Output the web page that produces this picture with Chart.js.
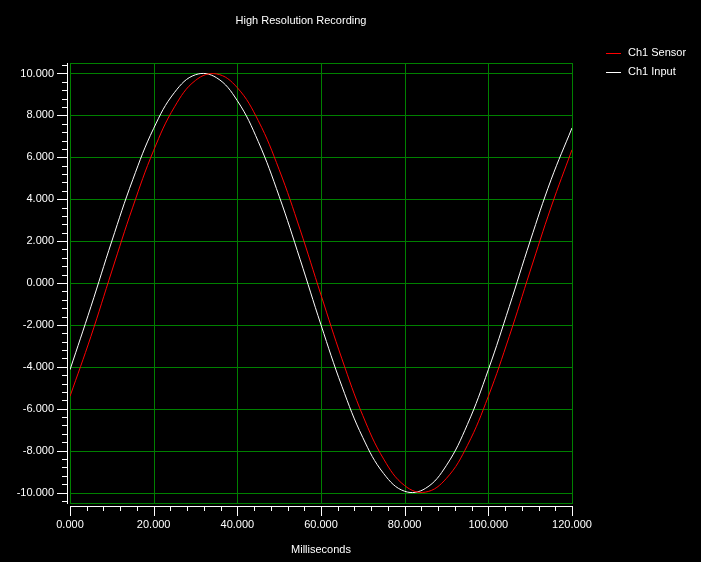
<!DOCTYPE html>
<html>
<head>
<meta charset="utf-8">
<script src="https://cdn.jsdelivr.net/npm/chart.js@4"></script>
<style>
  body { margin: 0; background: #000; }
  canvas { display: block; background: #000; }
</style>
</head>
<body>
<canvas id="myChart" width="701" height="562"></canvas>
<script>
// values, every 5 ms
const timeMs = [0, 5, 10, 15, 20, 25, 30, 35, 40, 45, 50, 55, 60, 65, 70, 75, 80, 85, 90, 95, 100, 105, 110, 115, 120];
const sensor = [-5.41, -2.55, 0.57, 3.62, 6.33, 8.41, 9.67, 9.98, 9.32, 7.75, 5.41, 2.55, -0.57, -3.62, -6.33, -8.41, -9.67, -9.98, -9.32, -7.75, -5.41, -2.55, 0.57, 3.62, 6.36];
const input = [-4.14, -1.13, 2.0, 4.93, 7.38, 9.1, 9.94, 9.8, 8.7, 6.75, 4.14, 1.13, -2.0, -4.93, -7.38, -9.1, -9.94, -9.8, -8.7, -6.75, -4.14, -1.13, 2.0, 4.93, 7.4];
const xTickValues = [0, 20, 40, 60, 80, 100, 120];
const yTickValues = [-10, -8, -6, -4, -2, 0, 2, 4, 6, 8, 10];
const seriesLabels = ["Ch1 Sensor", "Ch1 Input"];
const chartTitle = "High Resolution Recording";
const xTitle = "Milliseconds";

const GREEN = "#008000";
const FONT = "'Liberation Sans', Arial, sans-serif";

const toPoints = (values) => timeMs.map((t, i) => ({ x: t, y: values[i] }));
const px = (p) => Math.round(p);

// green grid + frame, drawn as whole pixels so it stays crisp
const greenGrid = {
  id: "greenGrid",
  beforeDatasetsDraw(chart) {
    const { ctx, chartArea: area, scales } = chart;
    const l = px(area.left), r = px(area.right), t = px(area.top), b = px(area.bottom);
    ctx.save();
    ctx.fillStyle = GREEN;
    xTickValues.forEach((v) => ctx.fillRect(px(scales.x.getPixelForValue(v)), t, 1, b - t + 1));
    yTickValues.forEach((v) => ctx.fillRect(l, px(scales.y.getPixelForValue(v)), r - l + 1, 1));
    ctx.fillRect(l, t, r - l + 1, 1);
    ctx.fillRect(l, b, r - l + 1, 1);
    ctx.fillRect(l, t, 1, b - t + 1);
    ctx.fillRect(r, t, 1, b - t + 1);
    ctx.restore();
  },
};

// title, legend, axis lines with minor ticks
const decorations = {
  id: "decorations",
  afterDraw(chart) {
    const { ctx, chartArea: area, scales } = chart;
    ctx.save();
    ctx.fillStyle = "#fff";
    const t = px(area.top), b = px(area.bottom), l = px(area.left), r = px(area.right);

    // y axis
    const ax = l - 3;
    ctx.fillRect(ax, t, 1, b - t + 1);
    const yStep = (yTickValues[1] - yTickValues[0]) / 5;
    const ys = scales.y;
    for (let k = Math.ceil(ys.min / yStep - 1e-9); k <= Math.floor(ys.max / yStep + 1e-9); k++) {
      const py = px(ys.getPixelForValue(k * yStep));
      const len = k % 5 === 0 ? 10 : 5;
      ctx.fillRect(ax - len, py, len, 1);
    }
    // x axis
    const ay = b + 3;
    ctx.fillRect(l, ay, r - l + 1, 1);
    const xStep = (xTickValues[1] - xTickValues[0]) / 5;
    const xs = scales.x;
    for (let k = Math.ceil(xs.min / xStep - 1e-9); k <= Math.floor(xs.max / xStep + 1e-9); k++) {
      const qx = px(xs.getPixelForValue(k * xStep));
      const len = k % 5 === 0 ? 10 : 5;
      ctx.fillRect(qx, ay, 1, len);
    }

    ctx.font = "11px " + FONT;
    ctx.textBaseline = "middle";
    ctx.textAlign = "center";
    ctx.fillText(chartTitle, 301, 21);

    ctx.textAlign = "left";
    chart.data.datasets.forEach((ds, i) => {
      const ly = 53 + i * 19;
      ctx.fillStyle = ds.borderColor;
      ctx.fillRect(606, ly, 15, 1);
      ctx.fillStyle = "#fff";
      ctx.fillText(ds.label, 628, ly);
    });
    ctx.restore();
  },
};

const chartElement = document.getElementById("myChart");
const myChart = new Chart(chartElement, {
  type: "line",
  data: {
    datasets: [
      { label: seriesLabels[0], data: toPoints(sensor), borderColor: "#ff0000", borderWidth: 1, pointRadius: 0, tension: 0.4 },
      { label: seriesLabels[1], data: toPoints(input), borderColor: "#ffffff", borderWidth: 1, pointRadius: 0, tension: 0.4 },
    ],
  },
  options: {
    responsive: false,
    animation: false,
    layout: { padding: { top: 63, right: 129, left: 0, bottom: 0 } },
    plugins: {
      legend: { display: false },
      title: { display: false },
      tooltip: { enabled: false },
    },
    scales: {
      x: {
        type: "linear",
        min: 0,
        max: 120,
        afterBuildTicks: (axis) => { axis.ticks = xTickValues.map((v) => ({ value: v })); },
        afterFit: (axis) => { axis.height = 59; },
        grid: { display: false, drawTicks: false },
        border: { display: false },
        ticks: {
          autoSkip: false,
          maxRotation: 0,
          padding: 15,
          color: "#fff",
          font: { size: 11, family: FONT },
          callback: (v) => v.toFixed(3),
        },
        title: { display: true, text: xTitle, color: "#fff", font: { size: 11, family: FONT }, padding: { top: 0, bottom: 5 } },
      },
      y: {
        type: "linear",
        min: -10.5,
        max: 10.5,
        afterBuildTicks: (axis) => { axis.ticks = yTickValues.map((v) => ({ value: v })); },
        afterFit: (axis) => { axis.width = 70; },
        grid: { display: false, drawTicks: false },
        border: { display: false },
        ticks: {
          autoSkip: false,
          padding: 16,
          color: "#fff",
          font: { size: 11, family: FONT },
          callback: (v) => v.toFixed(3),
        },
      },
    },
  },
  plugins: [greenGrid, decorations],
});
</script>
</body>
</html>
